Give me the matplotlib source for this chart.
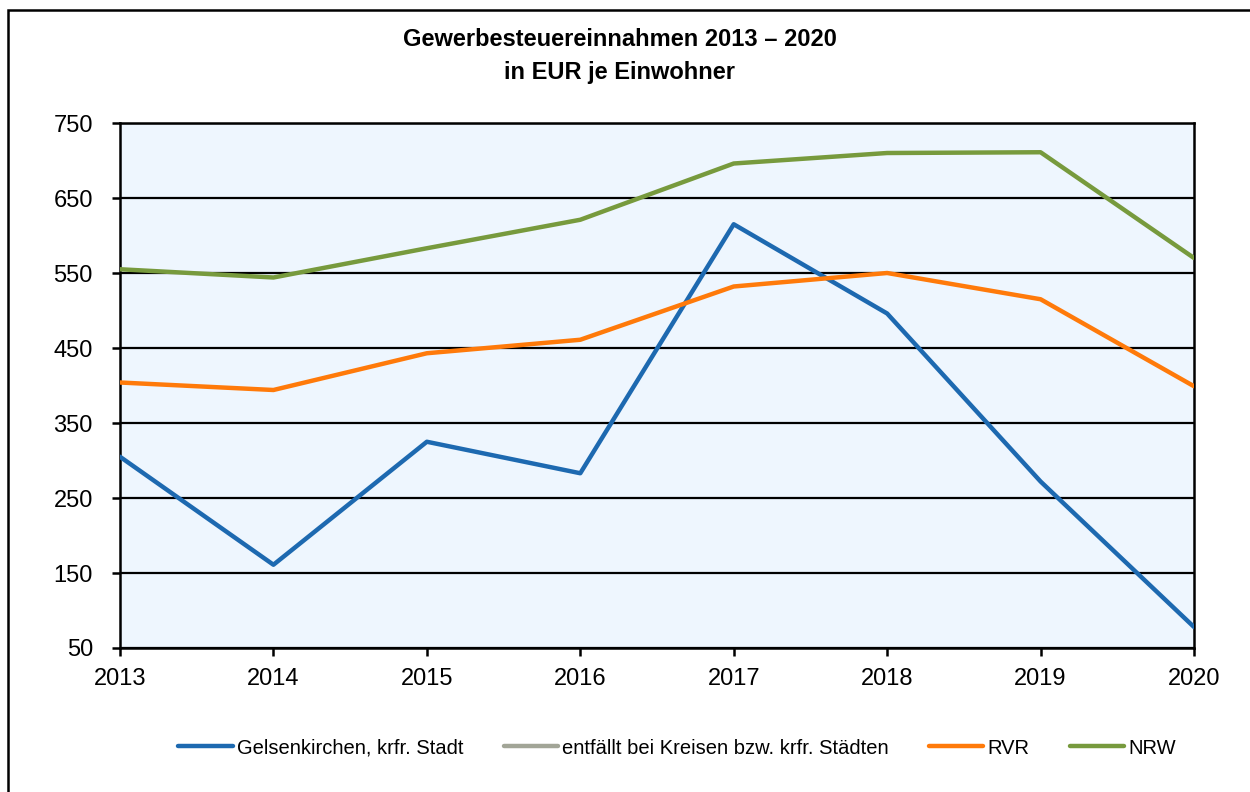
import matplotlib
matplotlib.use("Agg")
import matplotlib.pyplot as plt
from matplotlib.patches import Rectangle

years = [2013, 2014, 2015, 2016, 2017, 2018, 2019, 2020]
gelsenkirchen = [305, 161, 325, 283, 615, 496, 272, 78]
entfaellt = [None] * 8
rvr = [404, 394, 443, 461, 532, 550, 515, 399]
nrw = [555, 544, 583, 621, 696, 710, 711, 570]

labels = ["Gelsenkirchen, krfr. Stadt", "entfällt bei Kreisen bzw. krfr. Städten", "RVR", "NRW"]
colors = ["#1D69B0", "#A2A597", "#FF7A0A", "#779A3D"]
yticks = [50, 150, 250, 350, 450, 550, 650, 750]

plt.rcParams['font.family'] = ['Liberation Sans', 'DejaVu Sans']

fig = plt.figure(figsize=(12.5, 7.92), dpi=100)
fig.patches.append(Rectangle((8 / 1250, -0.1), 2, 1.1 - 10 / 792, transform=fig.transFigure,
                             fill=False, edgecolor='black', linewidth=1.8))

ax = fig.add_axes([120 / 1250, 1 - 648 / 792, (1194 - 120) / 1250, (648 - 123) / 792])
ax.set_facecolor('#EEF6FE')

series = [gelsenkirchen, entfaellt, rvr, nrw]
handles = []
for vals, lab, col in zip(series, labels, colors):
    y = [float('nan') if v is None else v for v in vals]
    h, = ax.plot(years, y, color=col, linewidth=3.2, label=lab, solid_capstyle='round', zorder=3)
    handles.append(h)

ax.set_xlim(years[0], years[-1])
ax.set_ylim(yticks[0], yticks[-1])
ax.set_yticks(yticks)
ax.set_xticks(years)
ax.grid(axis='y', color='black', linewidth=1.6, zorder=1)
ax.set_axisbelow(True)
for s in ax.spines.values():
    s.set_linewidth(1.8)
    s.set_color('black')
ax.tick_params(axis='both', direction='out', length=5.5, width=1.8, labelsize=17, colors='black')
ax.tick_params(axis='y', pad=14)
ax.tick_params(axis='x', pad=9)

fig.text(620 / 1250, 1 - 40 / 792, "Gewerbesteuereinnahmen 2013 – 2020", ha='center', va='center',
         fontsize=17, fontweight='bold')
fig.text(620 / 1250, 1 - 72 / 792, "in EUR je Einwohner", ha='center', va='center',
         fontsize=17, fontweight='bold')

fig.legend(handles=handles, labels=labels, loc='center', bbox_to_anchor=(677 / 1250, 1 - 748 / 792),
           ncol=4, frameon=False, handlelength=2.7, handletextpad=0.2, columnspacing=2.0,
           prop={'size': 14.5})

fig.savefig("out.png", dpi=100)
